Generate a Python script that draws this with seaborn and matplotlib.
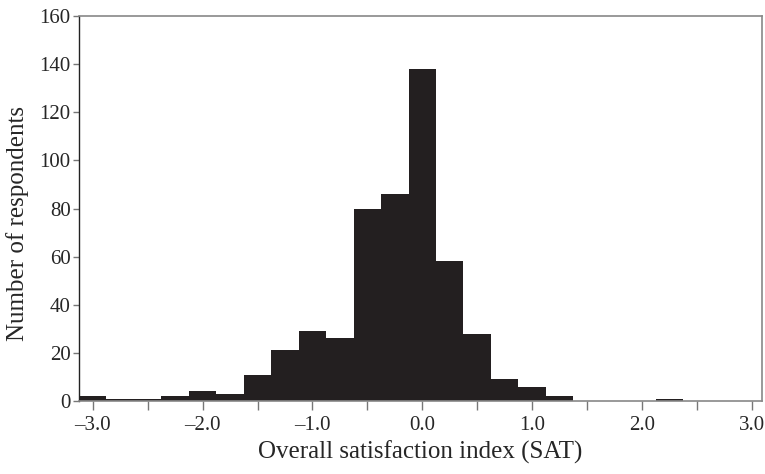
import matplotlib
matplotlib.use("Agg")
import matplotlib.pyplot as plt
from matplotlib.ticker import MultipleLocator, FuncFormatter
import seaborn as sns
import numpy as np
import pandas as pd

# Bin centres (SAT index) and number of respondents per bin
sat_centres = [-3.0, -2.75, -2.5, -2.25, -2.0, -1.75, -1.5, -1.25, -1.0, -0.75,
               -0.5, -0.25, 0.0, 0.25, 0.5, 0.75, 1.0, 1.25, 1.5, 1.75, 2.0, 2.25]
respondents = [2, 1, 1, 2, 4, 3, 11, 21, 29, 26,
               80, 86, 138, 58, 28, 9, 6, 2, 0, 0, 0, 1]
y_ticks = [0, 20, 40, 60, 80, 100, 120, 140, 160]

df = pd.DataFrame({"sat": sat_centres, "n": respondents})

sns.set_style("white")
plt.rcParams["font.family"] = ["Liberation Serif", "DejaVu Serif"]

fig = plt.figure(figsize=(7.65, 4.74), dpi=100)
ax = fig.add_axes([0.1033, 0.154, 0.8924, 0.812])

sns.histplot(data=df, x="sat", weights="n", binwidth=0.25,
             binrange=(-3.125, 2.375), color="#231f20", edgecolor="#231f20",
             linewidth=0, alpha=1, ax=ax)

ax.set_xlim(-3.125, 3.09)
ax.set_ylim(0, 160)
ax.set_yticks(y_ticks)
ax.xaxis.set_major_locator(MultipleLocator(1.0))
ax.xaxis.set_minor_locator(MultipleLocator(0.5))
ax.xaxis.set_major_formatter(FuncFormatter(lambda v, p: f"{v:.1f}".replace("-", "\u2013")))

ax.tick_params(axis="x", which="both", direction="out", length=6.5, width=1,
               color="#777777", labelsize=15, pad=4, bottom=True)
ax.tick_params(axis="y", direction="out", length=4, width=1,
               color="#777777", labelsize=15, pad=2, left=True)

for side in ["top", "right", "bottom"]:
    ax.spines[side].set_color("#888888")
    ax.spines[side].set_linewidth(1.2)
ax.spines["left"].set_color("#222222")
ax.spines["left"].set_linewidth(1)

ax.set_xlabel("Overall satisfaction index (SAT)", fontsize=18, labelpad=4)
ax.set_ylabel("Number of respondents", fontsize=18, labelpad=6)
ax.yaxis.set_label_coords(-0.074, 0.46)

fig.savefig("out.png", dpi=100)
